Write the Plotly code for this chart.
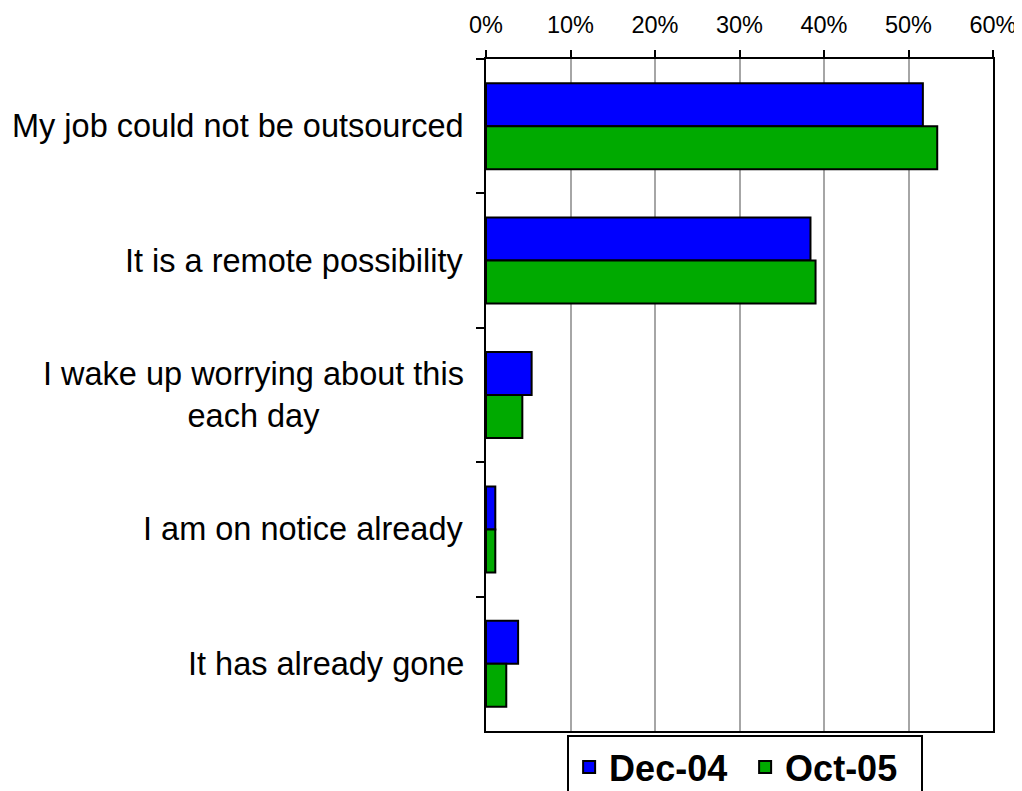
import plotly.graph_objects as go

categories = [
    "My job could not be outsourced",
    "It is a remote possibility",
    "I wake up worrying about this<br>each day",
    "I am on notice already",
    "It has already gone",
]
series_names = ["Dec-04", "Oct-05"]
dec04 = [0.517, 0.384, 0.054, 0.011, 0.038]
oct05 = [0.534, 0.390, 0.043, 0.011, 0.024]
colors = ["#0000FF", "#00AA00"]
x_ticks = [0, 0.1, 0.2, 0.3, 0.4, 0.5, 0.6]

FONT = "Arial, 'Liberation Sans', sans-serif"

fig = go.Figure()
for name, vals, col in zip(series_names, [dec04, oct05], colors):
    fig.add_trace(go.Bar(
        y=categories, x=vals, name=name, orientation="h",
        marker=dict(color=col, line=dict(color="black", width=2)),
    ))

for cat in categories:
    fig.add_annotation(
        x=0, xref="paper", y=cat, yref="y", text=cat,
        xanchor="right", yanchor="middle", align="center",
        xshift=-20, showarrow=False,
        font=dict(family=FONT, size=32.5, color="black"),
    )

fig.update_layout(
    width=1022, height=791,
    margin=dict(l=478, r=37, t=51, b=68, autoexpand=False),
    paper_bgcolor="white", plot_bgcolor="white",
    barmode="group", bargap=0.36, bargroupgap=0,
    font=dict(family=FONT, color="black"),
    showlegend=True,
    legend=dict(
        orientation="h", x=0.16, xanchor="left", y=-0.006, yanchor="top",
        bordercolor="black", borderwidth=2, bgcolor="white",
        font=dict(family=FONT, size=36, color="black", weight="bold"),
        traceorder="normal", entrywidth=131, entrywidthmode="pixels",
    ),
    xaxis=dict(
        side="top", range=[0, 0.6], tickvals=x_ticks, tickformat=".0%",
        showgrid=True, gridcolor="#A6A6A6", gridwidth=1.5,
        showline=True, linecolor="black", linewidth=2, mirror=True,
        ticks="outside", ticklen=7, tickwidth=2, tickcolor="black",
        ticklabelstandoff=8,
        tickfont=dict(family=FONT, size=23.5, color="black"),
        zeroline=False, fixedrange=True,
    ),
    yaxis=dict(
        autorange="reversed", type="category",
        showticklabels=False, tickson="boundaries",
        ticks="outside", ticklen=8, tickwidth=2, tickcolor="black",
        showline=True, linecolor="black", linewidth=2, mirror=True,
        showgrid=False, fixedrange=True,
    ),
)

fig.write_html("out.html")
